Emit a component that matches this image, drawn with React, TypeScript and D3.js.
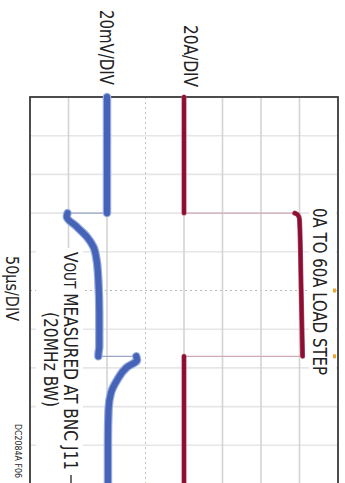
import React from "react";
import * as d3 from "d3";

// scope capture, drawn unrotated then turned 90deg clockwise like the datasheet figure
const width = 345;
const height = 483;

// load current trace (20A/DIV), time in us
const currentTimes = [0, 150, 150, 152, 158, 240, 335, 335, 500];
const currentAmps = [0, 0, 57.5, 59, 60, 60.8, 61.6, 0, 0];

// output voltage deviation trace (20mV/DIV)
const voutTimes = [0, 150, 150, 154.6, 167.6, 180.5, 193.4, 210.6, 236.4, 279, 322.6, 330.7, 335, 335, 340, 349, 366, 382, 404, 443, 500];
const voutMv = [0, 0, -20.5, -20.9, -15.7, -10.5, -7.1, -5.4, -4.5, -4.0, -4.0, -4.4, -4.5, 15.2, 15.6, 10.4, 5.2, 2.1, 0.8, 0.5, 0.5];

const timeDivs = d3.range(0, 501, 50);
const ampDivs = d3.range(0, 9);
const markerTimes = [250, 335];

const tScale = d3.scaleLinear().domain([0, 500]).range([97, 484]);
const divScale = d3.scaleLinear().domain([0, 8]).range([315, 7]);
const ampScale = d3.scaleLinear().domain([0, 20]).range([divScale(4), divScale(5)]);
const mvScale = d3.scaleLinear().domain([0, 20]).range([divScale(2), divScale(3)]);

type Pt = [number, number];

// steps (two samples at the same time) get a thin stroke, the rest is the fat noisy trace
function splitTrace(ts: number[], vs: number[]) {
  const runs: Pt[][] = [];
  const edges: Pt[][] = [];
  let cur: Pt[] = [[ts[0], vs[0]]];
  for (let i = 1; i < ts.length; i++) {
    if (ts[i] === ts[i - 1]) {
      edges.push([[ts[i - 1], vs[i - 1]], [ts[i], vs[i]]]);
      runs.push(cur);
      cur = [[ts[i], vs[i]]];
    } else {
      cur.push([ts[i], vs[i]]);
    }
  }
  runs.push(cur);
  return { runs, edges };
}

function Trace({ ts, vs, scale, core, halo, coreW, haloW, edgeColor }: any) {
  const { runs, edges } = splitTrace(ts, vs);
  const line = d3
    .line<Pt>()
    .x(d => tScale(d[0]))
    .y(d => scale(d[1]))
    .curve(d3.curveMonotoneX);
  const edgeLine = d3
    .line<Pt>()
    .x(d => tScale(d[0]))
    .y(d => scale(d[1]));
  return (
    <g fill="none" strokeLinecap="round" strokeLinejoin="round">
      {edges.map((e, i) => (
        <path key={"e" + i} d={edgeLine(e) || ""} stroke={edgeColor} strokeWidth={1.2} />
      ))}
      {runs.map((r, i) => (
        <path key={"h" + i} d={line(r) || ""} stroke={halo} strokeWidth={haloW} />
      ))}
      {runs.map((r, i) => (
        <path key={"c" + i} d={line(r) || ""} stroke={core} strokeWidth={coreW} />
      ))}
    </g>
  );
}

export default function App() {
  const font = "'Liberation Sans Narrow', 'DejaVu Sans Condensed', 'Liberation Sans', Arial, sans-serif";
  return (
    <>
      <style>{`body { margin: 0; }`}</style>
      <svg width={width} height={height} style={{ display: "block", background: "#fff" }}>
        <g
          transform={`translate(${width},0) rotate(90)`}
          fontFamily={font}
          style={{ fontStretch: "condensed" }}
          fill="#222"
        >
          {/* graticule */}
          {timeDivs.slice(1, -1).map(t => (
            <line
              key={"t" + t}
              x1={tScale(t)}
              x2={tScale(t)}
              y1={divScale(0)}
              y2={divScale(8)}
              stroke={t === 250 ? "#b8b8b8" : "#e6e6e6"}
              strokeWidth={t === 250 ? 1 : 1.6}
              strokeDasharray={t === 250 ? "2,3" : undefined}
            />
          ))}
          {ampDivs.slice(1, -1).map(d => (
            <line
              key={"a" + d}
              x1={tScale(0)}
              x2={tScale(500)}
              y1={divScale(d)}
              y2={divScale(d)}
              stroke={d === 3 ? "#c8c0b0" : "#d4d4d4"}
              strokeWidth={d === 3 ? 1 : 1.6}
              strokeDasharray={d === 3 ? "2,3" : undefined}
            />
          ))}
          <rect
            x={tScale(0)}
            y={divScale(8)}
            width={tScale(500) - tScale(0)}
            height={divScale(0) - divScale(8)}
            fill="none"
            stroke="#3a3a3a"
            strokeWidth={1.8}
          />

          {/* label backgrounds */}
          <rect x={203} y={9} width={179} height={27} fill="#fff" />
          <rect x={248} y={262} width={240} height={47} fill="#fff" />

          {markerTimes.map(t => (
            <rect key={"m" + t} x={tScale(t) - 2} y={divScale(8) + 2} width={4} height={3} fill="#e8a830" />
          ))}

          <Trace
            ts={currentTimes}
            vs={currentAmps}
            scale={ampScale}
            core="#8a0f33"
            halo="#b4506c"
            coreW={3.8}
            haloW={5}
            edgeColor="#d2aab6"
          />
          <Trace
            ts={voutTimes}
            vs={voutMv}
            scale={mvScale}
            core="#4564b8"
            halo="#9aaddf"
            coreW={6.2}
            haloW={8.5}
            edgeColor="#9aa6c8"
          />

          {/* channel scales */}
          <text x={10} y={245} fontSize={19} textLength={75} lengthAdjust="spacingAndGlyphs">
            20mV/DIV
          </text>
          <text x={25} y={161} fontSize={19} textLength={62} lengthAdjust="spacingAndGlyphs">
            20A/DIV
          </text>

          <text x={208} y={32} fontSize={19} textLength={167} lengthAdjust="spacingAndGlyphs">
            0A TO 60A LOAD STEP
          </text>

          {/* long annotation is condensed by a transform so its box stays inside the frame */}
          <g transform="translate(252,281) scale(0.8,1)">
            <text x={0} y={0} fontSize={19} textLength={272.5} lengthAdjust="spacingAndGlyphs">
              V<tspan fontSize={15}>OUT</tspan> MEASURED AT BNC J11
            </text>
          </g>
          <line x1={475} x2={495} y1={274} y2={274} stroke="#222" strokeWidth={1.3} />
          <text x={312} y={301} fontSize={19} textLength={95} lengthAdjust="spacingAndGlyphs">
            (20MHz BW)
          </text>

          <text x={256} y={339} fontSize={18} textLength={65} lengthAdjust="spacingAndGlyphs">
            50{"\u00B5"}s/DIV
          </text>
          <text x={424} y={330} fontSize={9.5} textLength={54} lengthAdjust="spacingAndGlyphs">
            DC2084A F06
          </text>
        </g>
      </svg>
    </>
  );
}
